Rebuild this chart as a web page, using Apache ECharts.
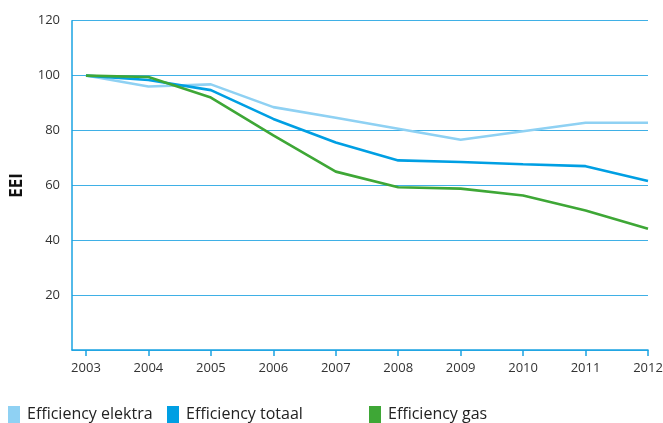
<!DOCTYPE html>
<html><head><meta charset="utf-8">
<script src="https://cdn.jsdelivr.net/npm/echarts@6/dist/echarts.min.js"></script>
<style>html,body{margin:0;padding:0;background:#fff}#c{width:663px;height:423px}</style>
</head><body><div id="c"></div>
<script>
var years = [2003, 2004, 2005, 2006, 2007, 2008, 2009, 2010, 2011, 2012];
var elektra = [100, 96, 96.8, 88.5, 84.6, 80.6, 76.6, 79.7, 82.8, 82.8];
var totaal = [100, 98.4, 94.7, 84.2, 75.6, 69.1, 68.5, 67.7, 67.0, 61.6];
var gas = [100, 99.5, 92, 78.2, 65, 59.3, 58.8, 56.3, 50.8, 44.2];
var yTicks = [20, 40, 60, 80, 100, 120];
var names = ['Efficiency elektra', 'Efficiency totaal', 'Efficiency gas'];
var colors = ['#8fd1f3', '#009fe3', '#3ea736'];

function pairs(v){ return years.map(function(y,i){ return [y, v[i]]; }); }
var font = 'Open Sans';
var chart = echarts.init(document.getElementById('c'));
function legend(i, left){
  return {data:[names[i]], left:left, top:401, icon:'rect', itemWidth:12, itemHeight:17, itemGap:8,
    selectedMode:false, textStyle:{fontFamily:font, fontSize:16, color:'#222', padding:[0,0,0,2]}};
}
chart.setOption({
  animation:false,
  color: colors,
  grid:{left:72, right:15, top:20.7, bottom:73, outerBoundsMode:'none', containLabel:false},
  legend:[legend(0,3), legend(1,162), legend(2,364)],
  xAxis:{type:'value', min:2002.776, max:2012,
    axisLine:{show:true, lineStyle:{color:'#1aa3e2', width:1.5}},
    axisTick:{show:true, customValues:years, length:6, lineStyle:{color:'#1aa3e2', width:1.5}},
    axisLabel:{customValues:years, margin:12, color:'#333', fontFamily:font, fontSize:13,
      formatter:function(v){return String(v);}},
    splitLine:{show:false}},
  yAxis:{type:'value', min:0, max:120, interval:20, name:'EEI', nameLocation:'middle', nameGap:46,
    nameTextStyle:{fontFamily:font, fontWeight:'bold', fontSize:17, color:'#111'},
    axisLine:{show:true, lineStyle:{color:'#1aa3e2', width:1.5}},
    axisTick:{show:false},
    axisLabel:{showMinLabel:false, margin:12, color:'#333', fontFamily:font, fontSize:13},
    splitLine:{show:true, lineStyle:{color:'#3fb0e6', width:1}}},
  series:[
    {name:names[0], type:'line', data:pairs(elektra), symbol:'none', lineStyle:{width:2.6, color:colors[0]}, z:2},
    {name:names[1], type:'line', data:pairs(totaal), symbol:'none', lineStyle:{width:2.6, color:colors[1]}, z:3},
    {name:names[2], type:'line', data:pairs(gas), symbol:'none', lineStyle:{width:2.6, color:colors[2]}, z:4}
  ]
});
</script></body></html>
